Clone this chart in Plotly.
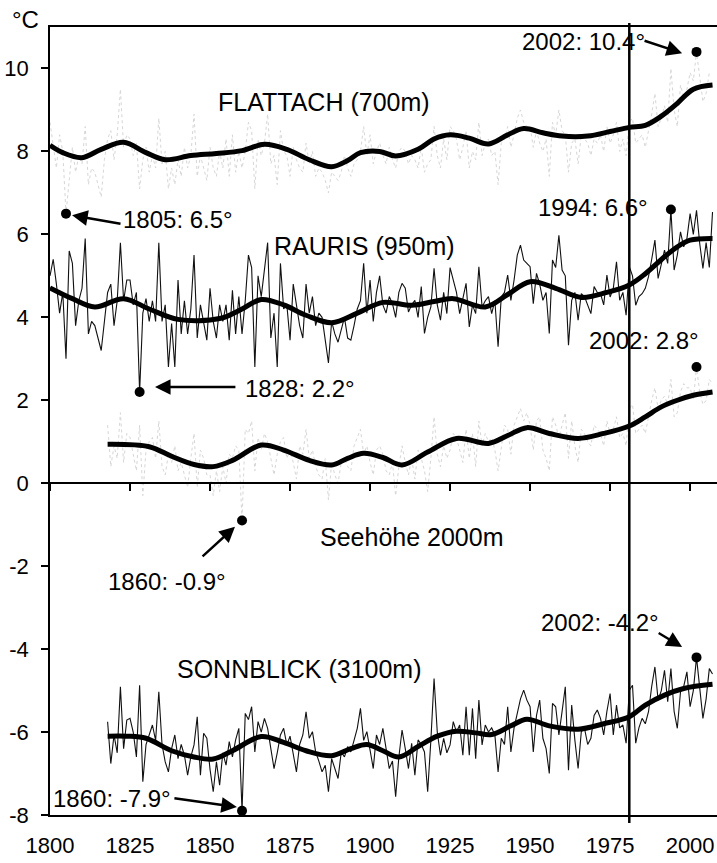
import plotly.graph_objects as go

# ---------------------------------------------------------------------------
# Annual mean temperatures (°C)
# ---------------------------------------------------------------------------
FLATTACH_START = 1800
flattach = [
    8.7, 8.2, 7.6, 8.4, 8.0, 6.5, 7.3, 8.1, 7.5, 7.9,
    7.7, 8.6, 7.2, 7.6, 7.5, 7.2, 6.9, 7.8, 8.3, 8.5,
    7.8, 8.4, 9.5, 8.1, 8.4, 8.3, 7.9, 8.2, 7.1, 7.8,
    8.1, 7.5, 7.9, 7.6, 8.8, 7.7, 8.0, 7.1, 7.6, 7.2,
    7.8, 7.4, 8.1, 7.6, 7.9, 8.9, 7.4, 7.9, 7.6, 7.3,
    8.1, 7.6, 7.4, 8.0, 7.6, 8.3, 7.4, 8.4, 7.5, 8.0,
    7.6, 8.0, 8.7, 8.5, 7.1, 8.3, 7.9, 8.2, 8.9, 7.7,
    7.9, 7.2, 8.5, 8.0, 7.9, 7.4, 8.1, 7.8, 7.6, 7.5,
    8.2, 7.7, 8.0, 7.4, 7.6, 7.5, 7.3, 7.0, 7.5, 7.4,
    7.3, 7.5, 7.9, 7.6, 7.4, 7.7, 7.8, 8.0, 8.6, 7.9,
    8.4, 7.7, 8.0, 8.2, 7.9, 7.7, 8.1, 7.8, 7.6, 8.0,
    8.1, 8.0, 7.7, 7.9, 7.8, 7.6, 8.1, 7.5, 7.7, 7.8,
    8.6, 7.9, 7.6, 8.3, 7.8, 8.6, 8.5, 8.3, 7.8, 8.1,
    8.5, 7.6, 8.0, 7.8, 8.7, 7.9, 8.2, 8.3, 7.9, 8.0,
    7.2, 8.2, 8.3, 8.6, 8.1, 8.4, 8.8, 9.0, 8.7, 8.6,
    8.6, 8.1, 8.5, 8.2, 8.0, 8.3, 7.4, 8.7, 8.4, 9.0,
    8.5, 8.4, 7.5, 8.2, 8.3, 7.7, 8.4, 8.3, 8.2, 7.9,
    8.3, 8.2, 8.4, 8.0, 8.6, 8.2, 8.4, 8.7, 8.0, 8.3,
    7.9, 8.7, 8.8, 8.2, 8.3, 8.4, 8.1, 8.5, 8.9, 9.4,
    8.6, 8.8, 9.1, 8.7, 10.0, 9.0, 8.6, 9.6, 9.3, 9.5,
    9.9, 9.7, 10.4, 9.8, 9.2, 9.4, 9.9,
]

RAURIS_START = 1800
rauris = [
    5.0, 5.4, 4.8, 4.1, 4.6, 3.0, 5.6, 5.3, 3.8, 4.4,
    4.7, 5.9, 3.6, 3.9, 3.8, 3.5, 3.2, 3.9, 4.6, 4.8,
    3.8, 4.4, 5.8, 4.4, 4.9, 4.9, 4.3, 4.6, 2.2, 4.1,
    4.45, 3.9, 4.4, 3.9, 5.8, 3.9, 4.3, 2.8, 3.85, 2.8,
    4.9, 3.6, 4.4, 3.6, 4.2, 5.5, 3.5, 4.3, 3.9, 3.45,
    4.7, 3.9, 3.5, 4.3, 3.9, 4.3, 3.45, 4.65, 3.6, 4.5,
    3.6, 4.4, 5.5, 5.2, 2.8, 5.0, 4.5, 5.1, 5.8, 3.5,
    4.1, 2.8, 5.3, 4.2, 4.3, 3.45, 4.8, 4.3, 3.8, 3.5,
    4.8, 4.1, 4.5, 3.8, 4.1, 4.0, 3.4, 2.9, 3.9, 3.6,
    3.4, 3.7, 4.0, 3.5, 3.45, 3.8, 4.2, 4.4, 5.3, 4.1,
    4.9, 3.9, 4.6, 5.0, 4.3, 4.1, 4.5, 4.33, 4.0, 4.6,
    4.82, 4.7, 4.13, 4.3, 4.41, 4.0, 4.74, 3.61, 4.0, 4.25,
    5.18, 4.3, 3.93, 4.6, 4.09, 5.2, 4.9, 4.6, 4.09, 4.5,
    4.82, 3.77, 4.3, 4.09, 5.22, 4.25, 4.4, 4.5, 4.09, 4.4,
    3.29, 4.49, 4.6, 5.02, 4.41, 4.9, 5.5, 5.74, 5.38, 5.3,
    5.22, 4.33, 5.06, 4.8, 4.41, 4.6, 3.61, 5.38, 5.2, 5.98,
    5.14, 5.0, 3.33, 4.41, 4.6, 3.93, 4.57, 4.5, 4.3, 4.09,
    4.74, 4.6, 4.57, 4.3, 5.02, 4.49, 4.7, 5.34, 4.41, 4.6,
    4.05, 5.22, 5.0, 4.29, 4.5, 4.57, 4.7, 4.98, 5.4, 5.86,
    4.94, 5.3, 5.62, 5.3, 6.6, 5.14, 5.5, 6.06, 5.7, 5.9,
    6.5, 6.0, 6.58, 5.78, 5.18, 5.8, 5.2, 6.54,
]

H2000_START = 1818
h2000 = [
    1.4, 0.4,
    0.9, 0.6, 1.7, 0.5, 1.2, 1.1, 0.7, 0.3, 1.4, -0.3,
    0.8, 1.0, 1.1, 0.6, 1.5, 0.4, 0.2, 0.7, 0.5, 0.9,
    0.3, 0.5, 0.2, -0.1, 0.6, 1.2, -0.1, 0.8, 0.6, 0.2,
    0.2, -0.3, 0.3, -0.2, 0.4, 0.0, 0.7, 0.6, 0.9, 0.8,
    -0.9, 1.3, 1.2, 1.5, 0.3, 1.1, 0.8, 1.2, 1.0, 0.6,
    0.2, 0.7, 1.0, 1.1, 0.6, 0.8, 0.5, 0.1, 0.9, 0.7,
    1.3, 0.6, 0.8, 0.4, 0.2, 0.1, 0.6, -0.4, 0.5, 0.2,
    0.0, 0.5, 0.6, 0.4, 0.3, 0.9, 1.1, 1.3, 0.7, 0.9,
    0.5, 0.2, 0.8, 0.9, 0.7, 0.3, 0.2, 0.5, -0.3, 0.4,
    0.9, 0.5, 0.2, 0.6, 0.1, 0.8, 0.6, 0.3, -0.2, 0.6,
    1.6, 0.7, 0.4, 0.9, 0.6, 0.8, 1.2, 1.1, 0.8, 0.5,
    1.3, 0.6, 1.2, 0.4, 1.5, 0.9, 1.2, 1.0, 1.1, 0.8,
    0.3, 0.9, 1.4, 1.3, 0.7, 1.4, 1.6, 1.8, 1.5, 1.7,
    1.4, 0.8, 1.5, 1.6, 0.8, 0.6, 0.3, 1.6, 1.4, 1.1,
    1.4, 1.7, 0.6, 1.5, 0.9, 0.5, 1.3, 1.2, 1.0, 0.9,
    1.4, 1.3, 1.2, 0.9, 1.5, 1.2, 1.3, 1.6, 1.1, 1.2,
    0.9, 1.8, 1.9, 1.2, 1.3, 1.4, 1.2, 1.6, 2.0, 2.3,
    1.8, 2.0, 2.1, 1.9, 2.5, 1.6, 1.7, 2.2, 2.4, 2.3,
    2.3, 2.0, 2.8, 2.2, 1.9, 2.0, 2.5, 2.4,
]

SONNBLICK_START = 1818
sonnblick = [
    -5.75, -6.76,
    -6.07, -6.5, -4.91, -6.4, -5.71, -5.67, -6.0, -6.6, -4.87, -7.2,
    -6.3, -6.07, -5.83, -6.2, -5.03, -6.3, -6.72, -6.96, -6.4, -6.07,
    -6.64, -6.3, -6.56, -7.04, -6.6, -6.31, -5.63, -7.04, -6.03, -6.15,
    -6.9, -7.44, -6.72, -7.28, -6.5, -6.8, -6.23, -6.6, -6.19, -5.91,
    -7.9, -5.55, -5.7, -5.39, -6.48, -5.75, -6.0, -5.67, -5.91, -6.4,
    -6.88, -6.5, -6.07, -5.91, -6.31, -6.1, -6.52, -6.96, -6.3, -6.07,
    -5.51, -6.15, -5.99, -6.48, -6.7, -6.96, -6.8, -7.44, -6.64, -6.9,
    -7.12, -6.48, -6.6, -6.35, -6.48, -6.2, -5.91, -5.43, -6.2, -5.99,
    -6.4, -6.88, -6.07, -6.3, -5.91, -6.4, -6.88, -6.7, -7.56, -6.6,
    -5.95, -6.4, -6.88, -6.27, -7.04, -6.19, -6.3, -6.48, -7.44, -6.2,
    -4.71, -6.0, -6.56, -6.15, -6.5, -6.31, -5.75, -6.0, -5.83, -6.56,
    -5.39, -6.56, -5.43, -6.64, -5.23, -6.31, -5.83, -6.0, -5.9, -6.07,
    -6.96, -6.15, -6.3, -5.39, -6.48, -5.9, -5.51, -5.2, -4.99, -5.23,
    -5.39, -6.48, -5.6, -5.23, -6.15, -6.4, -7.0, -5.31, -5.39, -6.07,
    -5.5, -4.91, -6.92, -5.35, -6.2, -6.88, -5.99, -5.91, -6.3, -6.15,
    -5.6, -5.47, -5.67, -6.07, -5.5, -5.07, -6.07, -5.35, -5.9, -5.83,
    -6.27, -4.99, -4.87, -6.27, -5.9, -5.67, -5.8, -5.51, -4.9, -4.43,
    -5.23, -5.0, -4.51, -5.27, -4.47, -5.5, -5.91, -5.03, -4.9, -4.55,
    -5.39, -5.0, -4.2, -4.87, -5.67, -5.2, -4.47, -4.6,
]

# ---------------------------------------------------------------------------
# Smoothed trend curves (low-pass filtered values at selected years)
# ---------------------------------------------------------------------------
flattach_trend_years = [1800, 1804, 1810, 1816, 1823, 1830, 1836, 1844, 1852, 1860,
                        1867, 1874, 1881, 1888, 1893, 1897, 1903, 1908, 1915, 1920,
                        1925, 1931, 1937, 1943, 1948, 1954, 1960, 1968, 1975, 1981,
                        1986, 1991, 1996, 2001, 2007]
flattach_trend = [8.15, 7.97, 7.85, 8.05, 8.22, 7.97, 7.8, 7.9, 7.95, 8.02,
                  8.17, 8.05, 7.8, 7.63, 7.78, 7.97, 8.0, 7.89, 8.05, 8.3,
                  8.4, 8.32, 8.18, 8.4, 8.55, 8.45, 8.37, 8.37, 8.48, 8.58,
                  8.63, 8.85, 9.16, 9.5, 9.6]

rauris_trend_years = [1800, 1807, 1814, 1823, 1831, 1840, 1853, 1860, 1866, 1873,
                      1880, 1888, 1896, 1904, 1913, 1920, 1926, 1936, 1943, 1950,
                      1958, 1966, 1974, 1981, 1986, 1992, 1996, 2000, 2007]
rauris_trend = [4.71, 4.45, 4.25, 4.45, 4.2, 3.95, 3.97, 4.2, 4.43, 4.3,
                4.05, 3.87, 4.1, 4.36, 4.29, 4.38, 4.45, 4.25, 4.55, 4.86,
                4.7, 4.48, 4.6, 4.78, 5.05, 5.46, 5.7, 5.86, 5.9]

h2000_trend_years = [1818, 1831, 1838, 1845, 1851, 1857, 1866, 1873, 1881, 1888,
                     1893, 1898, 1904, 1910, 1918, 1927, 1937, 1943, 1949, 1956,
                     1965, 1973, 1981, 1986, 1991, 1996, 2001, 2007]
h2000_trend = [0.94, 0.88, 0.65, 0.45, 0.4, 0.55, 0.92, 0.8, 0.55, 0.44,
               0.6, 0.72, 0.62, 0.44, 0.75, 1.08, 0.96, 1.15, 1.34, 1.2,
               1.08, 1.2, 1.38, 1.6, 1.84, 2.0, 2.12, 2.2]

sonnblick_trend_years = [1818, 1824, 1830, 1838, 1845, 1851, 1857, 1866, 1873, 1880,
                         1888, 1894, 1899, 1904, 1909, 1915, 1921, 1927, 1933, 1938,
                         1944, 1949, 1956, 1965, 1973, 1981, 1986, 1992, 1998, 2007]
sonnblick_trend = [-6.1, -6.1, -6.15, -6.45, -6.6, -6.65, -6.45, -6.11, -6.25, -6.45,
                   -6.57, -6.4, -6.3, -6.45, -6.6, -6.35, -6.1, -5.98, -6.02, -6.06,
                   -5.85, -5.69, -5.85, -5.93, -5.8, -5.63, -5.35, -5.11, -4.95, -4.85]

# Axis ticks
x_ticks = [1800, 1825, 1850, 1875, 1900, 1925, 1950, 1975, 2000]
y_ticks = [10, 8, 6, 4, 2, 0, -2, -4, -6, -8]
y_tick_text = ["10", "8", "6", "4", "2", "0", "-2", "-4", "-6", "-8"]

REFERENCE_YEAR = 1981

FONT = "Liberation Sans, Arial, sans-serif"


def years_of(start, values):
    return list(range(start, start + len(values)))


series = {
    "flattach": (FLATTACH_START, flattach),
    "rauris": (RAURIS_START, rauris),
    "h2000": (H2000_START, h2000),
    "sonnblick": (SONNBLICK_START, sonnblick),
}


def value_at(name, year):
    start, vals = series[name]
    return vals[year - start]


fig = go.Figure()

# Annual values: faint dotted for the valley/2000 m series, thin black otherwise
for name, faint in [("flattach", True), ("h2000", True), ("rauris", False), ("sonnblick", False)]:
    start, vals = series[name]
    if faint:
        line = dict(color="#d6d6d6", width=1, dash="dot")
    else:
        line = dict(color="#111111", width=1.1)
    fig.add_trace(go.Scatter(x=years_of(start, vals), y=vals, mode="lines",
                             line=line, hoverinfo="skip", showlegend=False))

# Smoothed trends
for yrs, vals in [(flattach_trend_years, flattach_trend),
                  (rauris_trend_years, rauris_trend),
                  (h2000_trend_years, h2000_trend),
                  (sonnblick_trend_years, sonnblick_trend)]:
    fig.add_trace(go.Scatter(x=yrs, y=vals, mode="lines",
                             line=dict(color="black", width=5, shape="spline", smoothing=1.0),
                             hoverinfo="skip", showlegend=False))

# Extremes: (series, year, label centre, arrow tail, arrow head)
extremes = [
    ("flattach", 2002, (1966.6, 10.64), (1985.3, 10.68), (1997.5, 10.37)),
    ("flattach", 1805, (1840.0, 6.37), (1822.5, 6.25), (1806.9, 6.46)),
    ("rauris", 1994, (1969.7, 6.66), None, None),
    ("rauris", 1828, (1878.1, 2.29), (1858.4, 2.32), (1832.8, 2.32)),
    ("h2000", 2002, (1985.6, 3.45), None, None),
    ("h2000", 1860, (1836.6, -2.36), (1847.2, -1.80), (1857.8, -1.05)),
    ("sonnblick", 2002, (1971.9, -3.37), (1989.7, -3.59), (1997.5, -3.95)),
    ("sonnblick", 1860, (1800.3, -7.59), (1838.4, -7.59), (1858.4, -7.81)),
]

fig.add_trace(go.Scatter(
    x=[e[1] for e in extremes],
    y=[value_at(e[0], e[1]) for e in extremes],
    mode="markers", marker=dict(color="black", size=10),
    hoverinfo="skip", showlegend=False))

annotations = []
for name, yr, (tx, ty), tail, head in extremes:
    v = value_at(name, yr)
    label = f"{yr}: {v:.1f}°"
    annotations.append(dict(
        x=tx, y=ty, xref="x", yref="y", text=label, showarrow=False,
        xanchor="left" if tx < 1801 else "center", yanchor="middle",
        font=dict(family=FONT, size=24, color="black")))
    if tail is not None:
        annotations.append(dict(
            x=head[0], y=head[1], ax=tail[0], ay=tail[1],
            xref="x", yref="y", axref="x", ayref="y",
            text="", showarrow=True, arrowhead=2, arrowsize=1.3,
            arrowwidth=2.4, arrowcolor="black", standoff=0, startstandoff=0))

# Station names
for text, x, y in [("FLATTACH (700m)", 1885.6, 9.19),
                   ("RAURIS (950m)", 1898.4, 5.72),
                   ("Seehöhe 2000m", 1912.8, -1.30),
                   ("SONNBLICK (3100m)", 1878.1, -4.48)]:
    annotations.append(dict(x=x, y=y, xref="x", yref="y", text=text, showarrow=False,
                            font=dict(family=FONT, size=25, color="black")))

annotations.append(dict(x=-0.036, y=1.009, xref="paper", yref="paper", text="°C",
                        showarrow=False, xanchor="center", yanchor="middle",
                        font=dict(family=FONT, size=24, color="black")))

# Reference year marker, reaching slightly past the frame
fig.add_shape(type="line", xref="x", yref="paper", x0=REFERENCE_YEAR, x1=REFERENCE_YEAR,
              y0=-0.010, y1=1.005, line=dict(color="black", width=2.5))

fig.update_layout(
    width=717, height=863,
    margin=dict(l=50, r=0, t=27, b=48),
    plot_bgcolor="white", paper_bgcolor="white",
    annotations=annotations,
    font=dict(family=FONT, color="black"),
    xaxis=dict(range=[1800, 2008.4], tickvals=x_ticks, showgrid=False, zeroline=False,
               showline=True, mirror=True, linecolor="black", linewidth=1.5,
               ticks="outside", ticklen=10, tickcolor="rgba(0,0,0,0)",
               tickfont=dict(family=FONT, size=22, color="black")),
    # zero line with downward ticks
    xaxis2=dict(range=[1800, 2008.4], tickvals=x_ticks, overlaying="x", anchor="free",
                position=8 / 19, side="bottom", showgrid=False, zeroline=False,
                showline=True, linecolor="black", linewidth=1.5,
                ticks="outside", ticklen=7, tickwidth=1.5, tickcolor="black",
                showticklabels=False),
    yaxis=dict(range=[-8, 11], tickvals=y_ticks, ticktext=y_tick_text, showgrid=False,
               zeroline=False, showline=True, linecolor="black", linewidth=1.5,
               ticks="outside", ticklen=7, tickwidth=1.5, tickcolor="black",
               ticklabelstandoff=8,
               tickfont=dict(family=FONT, size=22, color="black")),
)

# invisible point so the zero-line axis is rendered
fig.add_trace(go.Scatter(x=[1800], y=[0], xaxis="x2", mode="markers",
                         marker=dict(opacity=0), hoverinfo="skip", showlegend=False))

fig.write_html("out.html")
